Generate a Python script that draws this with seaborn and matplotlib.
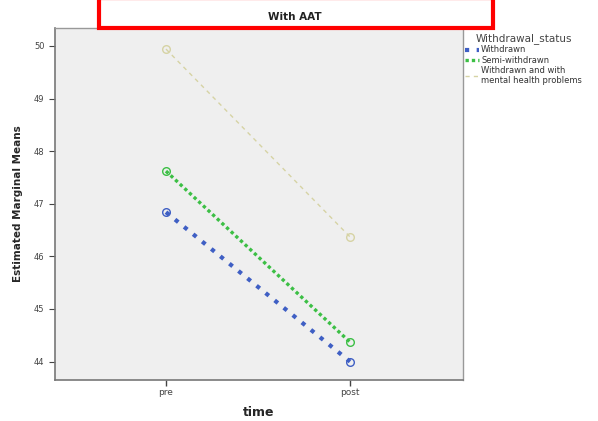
import matplotlib
matplotlib.use("Agg")
import matplotlib.pyplot as plt
import seaborn as sns
import pandas as pd
from matplotlib.patches import Rectangle
from matplotlib.lines import Line2D

time_levels = ["pre", "post"]
status_levels = ["Withdrawn", "Semi-withdrawn", "Withdrawn and with\nmental health problems"]
withdrawn = [46.84, 44.0]
semi_withdrawn = [47.62, 44.37]
mental_health = [49.94, 46.37]
y_ticks = [44, 45, 46, 47, 48, 49, 50]

sns.set_theme(style="white")
plt.rcParams['font.family'] = ['DejaVu Sans']

colors = ["#3f5fc4", "#3cbf45", "#d6d3a4"]
styles = [
    dict(linestyle=(0, (1.0, 1.8)), linewidth=3.0),
    dict(linestyle=(0, (1.0, 0.9)), linewidth=2.4),
    dict(linestyle=(0, (3, 3)), linewidth=1.0),
]

rows = []
for name, vals in zip(status_levels, [withdrawn, semi_withdrawn, mental_health]):
    for t, v in zip(time_levels, vals):
        rows.append({"time": t, "mean": v, "status": name})
df = pd.DataFrame(rows)

fig = plt.figure(figsize=(5.98, 4.21), dpi=100)
ax = fig.add_axes([55/598, 1-380/421, (463-55)/598, (380-28)/421])
ax.set_facecolor("#efefef")

handles = []
for name, col, st in zip(status_levels, colors, styles):
    sub = df[df["status"] == name]
    sns.lineplot(data=sub, x="time", y="mean", ax=ax, color=col, marker="o",
                 markersize=5.5, markerfacecolor="none", markeredgecolor=col,
                 markeredgewidth=1.0, legend=False, sort=False, **st)
    handles.append(Line2D([0], [0], color=col, **st))

ax.set_xlim(-0.603, 1.614)
ax.set_ylim(43.65, 50.34)
ax.set_yticks(y_ticks)
ax.set_yticklabels([str(v) for v in y_ticks], fontsize=6, color="#444444")
ax.tick_params(axis="x", labelsize=6.5, colors="#444444", length=4, width=1, direction="out", bottom=True, pad=2)
ax.tick_params(axis="y", length=4, width=0.8, direction="out", left=True, colors="#444444")
for s in ["left", "bottom"]:
    ax.spines[s].set_color("#777777")
    ax.spines[s].set_linewidth(1.2)
for s in ["top", "right"]:
    ax.spines[s].set_color("#999999")
    ax.spines[s].set_linewidth(1.0)
ax.set_xlabel("time", fontsize=9, fontweight="bold", labelpad=6)
ax.set_ylabel("Estimated Marginal Means", fontsize=7.5, fontweight="bold", labelpad=8)

leg = fig.legend(handles, status_levels, title="Withdrawal_status", loc="upper left",
                 bbox_to_anchor=(462/598, 1-30/421), frameon=False, fontsize=6,
                 title_fontsize=7.5, handlelength=1.6, handletextpad=0.3,
                 labelspacing=0.15, borderaxespad=0)
leg.get_title().set_color("#444444")
for t in leg.get_texts():
    t.set_color("#333333")

fig.patches.append(Rectangle((99/598, 1-28/421), (493-99)/598, 30/421,
                             transform=fig.transFigure, fill=True, facecolor="white",
                             edgecolor="#ff0000", linewidth=3, clip_on=False))
fig.text(295/598, 1-17/421, "With AAT", ha="center", va="center", fontsize=7.5,
         fontweight="bold", color="#222222")

fig.savefig("out.png", dpi=100)
